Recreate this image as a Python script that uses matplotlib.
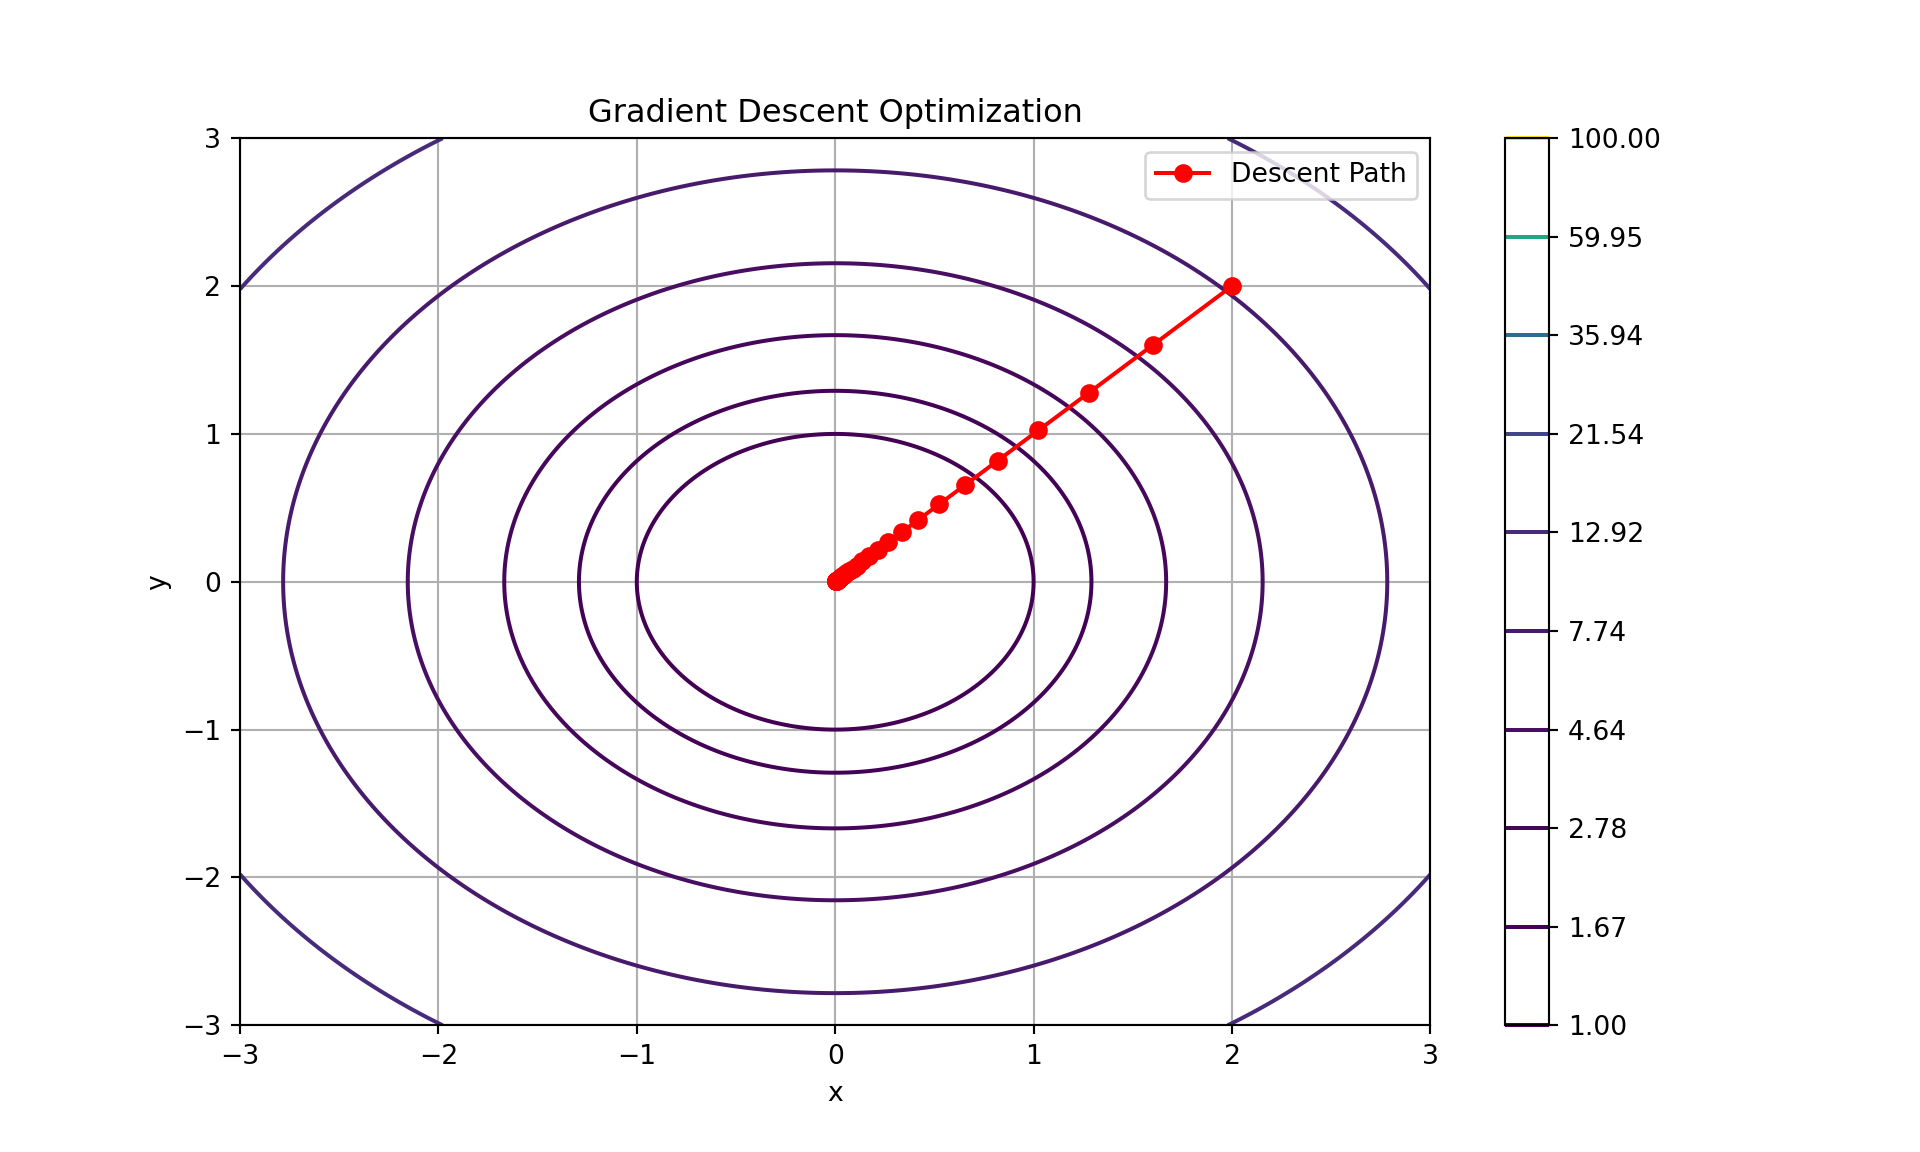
import numpy as np
import matplotlib
matplotlib.use("Agg")
import matplotlib.pyplot as plt

# contour levels of f(x, y) = x^2 + y^2
levels = [1.00, 1.6681, 2.7826, 4.6416, 7.7426, 12.9155, 21.5443, 35.9381, 59.9484, 100.00]

# descent path (x and y coordinates)
path_x = [2.0, 1.6, 1.28, 1.024, 0.8192, 0.65536, 0.524288, 0.41943, 0.33554, 0.26844,
          0.21475, 0.17180, 0.13744, 0.10995, 0.08796, 0.07037, 0.05629, 0.04504,
          0.03603, 0.02882, 0.02306, 0.01845, 0.01476, 0.01181, 0.00944, 0.00756,
          0.00604, 0.00484, 0.00387, 0.00309, 0.00248]
path_y = list(path_x)

x = np.linspace(-3, 3, 400)
y = np.linspace(-3, 3, 400)
X, Y = np.meshgrid(x, y)
Z = X**2 + Y**2

fig = plt.figure(figsize=(10, 6), dpi=192)
cs = plt.contour(X, Y, Z, levels=levels, cmap='viridis')
plt.colorbar(cs, format='%.2f')
plt.plot(path_x, path_y, 'o-', color='red', label='Descent Path')
plt.title('Gradient Descent Optimization')
plt.xlabel('x')
plt.ylabel('y')
plt.legend()
plt.grid(True)
fig.savefig('out.png', dpi=192)
